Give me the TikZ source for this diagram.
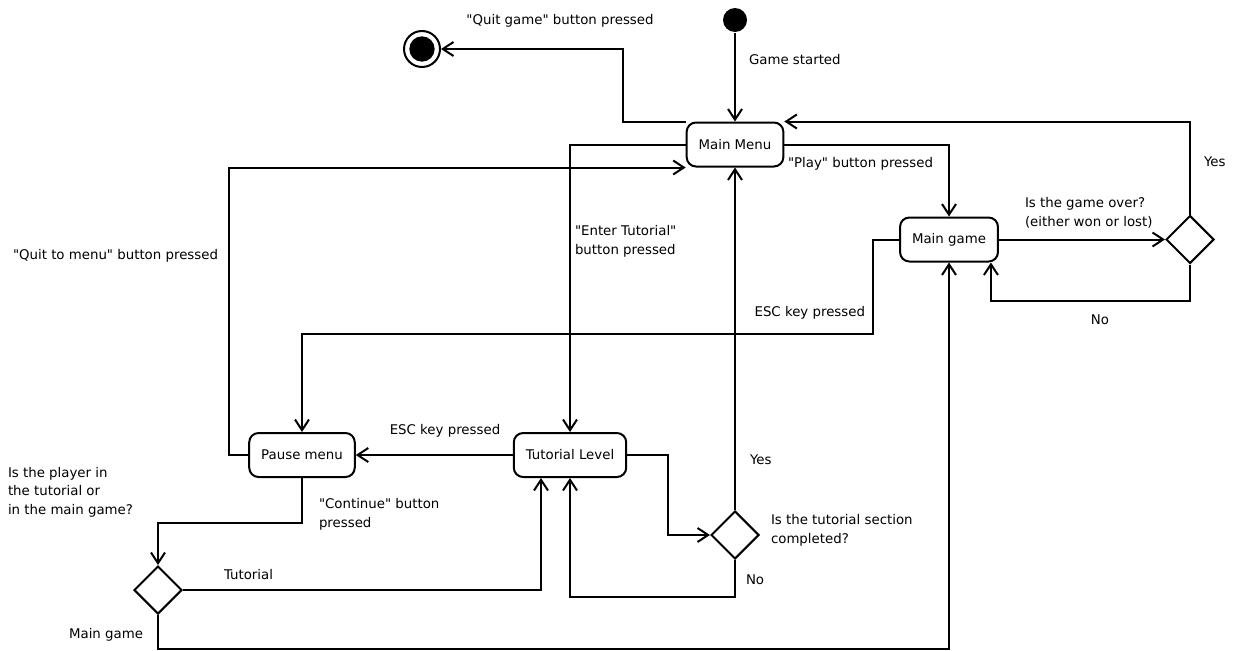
\documentclass[tikz,border=0pt]{standalone}
\usepackage{fontspec}
\setmainfont{DejaVu Sans}[Ligatures=TeXOff]
\usetikzlibrary{arrows.meta,shapes.geometric,calc}
\begin{document}
\begin{tikzpicture}[x=0.75pt,y=-0.75pt,line width=1.5pt,
	font=\fontsize{10}{14}\selectfont,
	state/.style={draw,rectangle,rounded corners=7pt,minimum height=33pt,inner xsep=9pt},
	choice/.style={draw,diamond,minimum size=36pt,inner sep=0},
	txt/.style={inner sep=0,align=left},
	flow/.style={-{Straight Barb[length=8pt,width=10.5pt]}}]
\useasboundingbox (0,0) rectangle (1238,650);
\node[circle,fill,minimum size=18pt,inner sep=0] (init) at (735,20) {};
\node[circle,draw,minimum size=27pt,inner sep=0,
	path picture={\fill (path picture bounding box.center) circle (9.5pt);}] (fin) at (422,49) {};
\node[state] (mm) at (735,144.5) {Main Menu};
\node[state] (mg) at (949,239.5) {Main game};
\node[state] (pm) at (302,455) {Pause menu};
\node[state] (tl) at (570,455) {Tutorial Level};
\node[choice] (dg) at (1190,239.5) {};
\node[choice] (dt) at (735,535) {};
\node[choice] (dp) at (158,590) {};
\draw[flow] (init) -- (mm.north);
\draw[flow] (mm.north west) -- ++(-63,0) |- (fin);
\draw[flow] (mm.east) -| (mg.north);
\draw[flow] (mg) -- (dg);
\draw[flow] (dg.north) |- (mm.north east);
\draw[flow] (dg.south) -- ++(0,36) -| ($(mg.south east)+(-8,0)$);
\draw[flow] (mg.west) -- ++(-26,0) -- ++(0,94) -| (pm.north);
\draw[flow] (tl) -- (pm);
\draw[flow] (pm.west) -- ++(-19,0) |- (mm.south west);
\draw[flow] (mm.west) -| (tl.north);
\draw[flow] (tl.east) -- ++(41,0) |- (dt.west);
\draw[flow] (dt.north) -- (mm.south);
\draw[flow] (dt.south) -- ++(0,37) -| (tl.south);
\draw[flow] (pm.south) -- ++(0,45) -| (dp.north);
\draw[flow] (dp.east) -| ($(tl.south)+(-29,0)$);
\draw[flow] (dp.south) -- ++(0,34) -| (mg.south);
\node[txt] (lquit) at (560,21) {"Quit game" button pressed};
\node[txt,anchor=west] (lstart) at (748,60) {Game started};
\node[txt,anchor=west] (lplay) at (787,164) {"Play" button pressed};
\node[txt,anchor=west] (lover) at (1024,212.5) {Is the game over?\\(either won or lost)};
\node[txt,anchor=west] (lyesg) at (1203,162) {Yes};
\node[txt] (lnog) at (1100,320) {No};
\node[txt,anchor=east] (lescg) at (866,313) {ESC key pressed};
\node[txt,anchor=east] (lmenu) at (219,256) {"Quit to menu" button pressed};
\node[txt,anchor=west] (ltut) at (574,241) {"Enter Tutorial"\\button pressed};
\node[txt] (lesct) at (445,431) {ESC key pressed};
\node[txt,anchor=west] (lyest) at (749,460) {Yes};
\node[txt,anchor=west] (ldone) at (770,530.5) {Is the tutorial section\\completed?};
\node[txt,anchor=west] (lnot) at (745,580) {No};
\node[txt,anchor=west] (lcont) at (318,514.5) {"Continue" button\\pressed};
\node[txt,anchor=west] (ltutp) at (223,575) {Tutorial};
\node[txt,anchor=east] (lmain) at (144,635) {Main game};
\node[txt,anchor=west] (lwhere) at (7,492) {Is the player in\\the tutorial or\\in the main game?};
\end{tikzpicture}
\end{document}
